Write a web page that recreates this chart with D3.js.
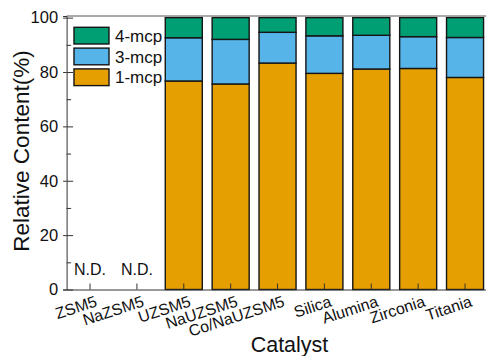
<!DOCTYPE html>
<html>
  <head>
    <meta charset="utf-8">
    <title>Relative Content</title>
    <script src="https://cdnjs.cloudflare.com/ajax/libs/d3/7.8.5/d3.min.js"></script>
    <style>
      body { margin: 0; background: #fff; }
      text { font-family: "Liberation Sans", Arial, sans-serif; fill: #111; }
    </style>
  </head>
  <body>

    <script>
      // data
      var catalysts = ["ZSM5", "NaZSM5", "UZSM5", "NaUZSM5", "Co/NaUZSM5", "Silica", "Alumina", "Zirconia", "Titania"];
      var mcp1 = [null, null, 76.7, 75.6, 83.3, 79.5, 81.1, 81.3, 78.0];
      var mcp3 = [null, null, 15.9, 16.4, 11.3, 13.8, 12.4, 11.7, 14.7];
      var mcp4 = [null, null, 7.4, 8.0, 5.4, 6.7, 6.5, 7.0, 7.3];
      var seriesNames = ["1-mcp", "3-mcp", "4-mcp"];
      var colors = ["#E69F00", "#56B4E9", "#009E73"];
      var yTicks = [0, 20, 40, 60, 80, 100];
      var yMinorTicks = [10, 30, 50, 70, 90];

      var W = 486, H = 356;
      var plotLeft = 66.6, plotTop = 16, plotBottom = 289.5;

      var svg = d3.select("body").append("svg")
        .attr("width", W)
        .attr("height", H);

      var x = d3.scaleBand()
        .domain(catalysts)
        .range([plotLeft, plotLeft + 9 * 46.875])
        .paddingInner(0.21)
        .paddingOuter(0.105);

      var y = d3.scaleLinear()
        .domain([0, 100.6])
        .range([plotBottom, plotTop]);

      // stack the three series
      var rows = catalysts.map(function (c, i){
        return { cat: c, "1-mcp": mcp1[i], "3-mcp": mcp3[i], "4-mcp": mcp4[i] };
      }).filter(function (d){ return d["1-mcp"] != null; });

      var stacked = d3.stack().keys(seriesNames)(rows);

      svg.selectAll("g.layer").data(stacked).enter().append("g")
        .attr("class", "layer")
        .attr("fill", function (d, i){ return colors[i]; })
        .selectAll("rect").data(function (d){ return d; }).enter().append("rect")
          .attr("x", function (d){ return x(d.data.cat); })
          .attr("width", x.bandwidth())
          .attr("y", function (d){ return y(d[1]); })
          .attr("height", function (d){ return y(d[0]) - y(d[1]); })
          .attr("stroke", "#151515")
          .attr("stroke-width", 1.4);

      // N.D. labels
      catalysts.forEach(function (c, i){
        if (mcp1[i] == null) {
          svg.append("text")
            .attr("x", x(c) + x.bandwidth() / 2)
            .attr("y", y(5.5))
            .attr("text-anchor", "middle")
            .attr("font-size", 16)
            .text("N.D.");
        }
      });

      // y axis: labels + short outer ticks, longer inner ticks, minor inner ticks
      var yAxis = svg.append("g")
        .attr("transform", "translate(" + plotLeft + ",0)")
        .call(d3.axisLeft(y).tickValues(yTicks).tickSize(3.5).tickPadding(5));
      yAxis.selectAll("text").attr("font-size", 16.5).style("font-family", "Liberation Sans, Arial, sans-serif");
      svg.append("g")
        .attr("transform", "translate(" + plotLeft + ",0)")
        .call(d3.axisRight(y).tickValues(yTicks).tickSize(6.5).tickFormat(""))
        .select(".domain").remove();
      svg.append("g")
        .attr("transform", "translate(" + plotLeft + ",0)")
        .call(d3.axisRight(y).tickValues(yMinorTicks).tickSize(4.5).tickFormat(""))
        .select(".domain").remove();

      svg.append("g")
        .attr("transform", "translate(0," + plotBottom + ")")
        .call(d3.axisBottom(x).tickSize(-6).tickSizeOuter(0).tickFormat(""));

      svg.selectAll(".domain").attr("stroke", "#333");
      svg.selectAll(".tick line").attr("stroke", "#333");

      // top spine
      svg.append("line")
        .attr("x1", plotLeft).attr("x2", W)
        .attr("y1", plotTop).attr("y2", plotTop)
        .attr("stroke", "#555");

      // rotated category labels
      catalysts.forEach(function (c){
        var cx = x(c) + x.bandwidth() / 2 + 8;
        svg.append("text")
          .attr("transform", "translate(" + cx + "," + (plotBottom + 16.5) + ") rotate(-18)")
          .attr("text-anchor", "end")
          .attr("font-size", 16)
          .text(c);
      });

      // axis titles
      svg.append("text")
        .attr("transform", "translate(28.5,151) rotate(-90)")
        .attr("text-anchor", "middle")
        .attr("font-size", 22.5)
        .text("Relative Content(%)");

      svg.append("text")
        .attr("x", 289.5)
        .attr("y", 351.5)
        .attr("text-anchor", "middle")
        .attr("font-size", 21.5)
        .text("Catalyst");

      // legend
      var legend = svg.append("g");
      [2, 1, 0].forEach(function (k, j){
        var ly = 27.3 + j * 20.8;
        legend.append("rect")
          .attr("x", 74).attr("y", ly)
          .attr("width", 35).attr("height", 16.7)
          .attr("fill", colors[k])
          .attr("stroke", "#151515")
          .attr("stroke-width", 1.4);
        legend.append("text")
          .attr("x", 115).attr("y", ly + 8.5)
          .attr("dy", "0.35em")
          .attr("font-size", 17)
          .text(seriesNames[k]);
      });
    </script>

  </body>
</html>
